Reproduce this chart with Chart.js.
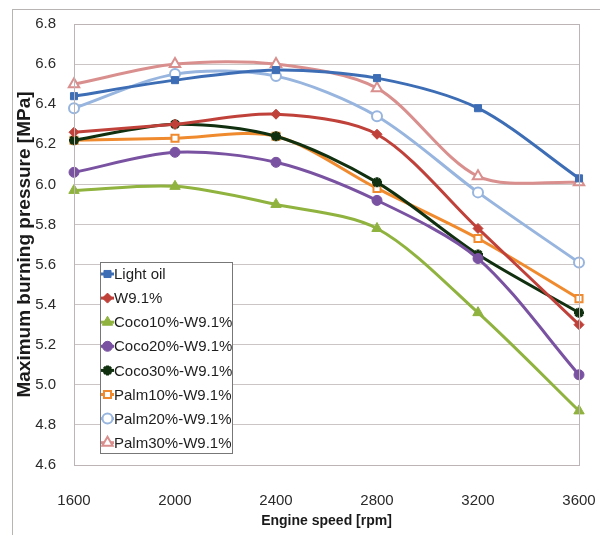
<!DOCTYPE html>
<html>
<head>
<meta charset="utf-8">
<script src="https://cdn.jsdelivr.net/npm/chart.js@4"></script>
<style>
  html, body { margin: 0; padding: 0; background: #fff; }
  #wrap { width: 600px; height: 535px; }
</style>
</head>
<body>
<div id="wrap"><canvas id="chart" width="600" height="535"></canvas></div>
<script>
const FONT = "'Liberation Sans', Arial, sans-serif";

// engine speed [rpm]
const speeds = ['1600', '2000', '2400', '2800', '3200', '3600'];

// maximum burning pressure [MPa]
const lightOil = [6.44, 6.52, 6.57, 6.53, 6.38, 6.03];
const w91      = [6.26, 6.30, 6.35, 6.25, 5.78, 5.30];
const coco10   = [5.97, 5.99, 5.90, 5.78, 5.36, 4.87];
const coco20   = [6.06, 6.16, 6.11, 5.92, 5.63, 5.05];
const coco30   = [6.22, 6.30, 6.24, 6.01, 5.65, 5.36];
const palm10   = [6.22, 6.23, 6.24, 5.98, 5.73, 5.43];
const palm20   = [6.38, 6.55, 6.54, 6.34, 5.96, 5.61];
const palm30   = [6.50, 6.60, 6.60, 6.48, 6.04, 6.01];

const yTicks = [4.6, 4.8, 5.0, 5.2, 5.4, 5.6, 5.8, 6.0, 6.2, 6.4, 6.6, 6.8];

function series(label, data, color, pointStyle, hollow) {
    return {
        label: label,
        data: data,
        borderColor: color,
        backgroundColor: color,
        pointBackgroundColor: hollow ? '#fff' : color,
        pointBorderColor: color,
        pointBorderWidth: hollow ? 2 : 1,
        pointStyle: pointStyle,
        pointRadius: pointStyle === 'triangle' ? 6 : 5,
        borderWidth: 3,
        tension: 0.3,
        fill: false
    };
}

const datasets = [
    series('Light oil', lightOil, '#3d6db5', 'rect', false),
    series('W9.1%', w91, '#c0413a', 'rectRot', false),
    series('Coco10%-W9.1%', coco10, '#8fb33e', 'triangle', false),
    series('Coco20%-W9.1%', coco20, '#7a52a2', 'circle', false),
    series('Coco30%-W9.1%', coco30, '#10300f', 'star', false),
    series('Palm10%-W9.1%', palm10, '#f08a2e', 'rect', true),
    series('Palm20%-W9.1%', palm20, '#97b5de', 'circle', true),
    series('Palm30%-W9.1%', palm30, '#d98f8d', 'triangle', true)
];
datasets[4].pointBorderWidth = 3;

// frame round the picture and round the plot area, plus the legend box inside the plot
const framePlugin = {
    id: 'frame',
    beforeDraw(chart) {
        const ctx = chart.ctx;
        ctx.save();
        ctx.strokeStyle = '#b9b4b4';
        ctx.lineWidth = 1;
        ctx.strokeRect(12.5, 9.5, 600, 540);
        ctx.restore();
    },
    afterDatasetsDraw(chart) {
        const ctx = chart.ctx;
        const a = chart.chartArea;
        ctx.save();
        ctx.strokeStyle = '#bdb5b5';
        ctx.lineWidth = 1;
        ctx.strokeRect(Math.round(a.left) + 0.5, Math.round(a.top) + 0.5,
            Math.round(a.right - a.left), Math.round(a.bottom - a.top));

        // legend
        const box = { x: 100.5, y: 262.5, w: 132, h: 191 };
        ctx.fillStyle = '#fff';
        ctx.fillRect(box.x, box.y, box.w, box.h);
        ctx.strokeStyle = '#777';
        ctx.strokeRect(box.x, box.y, box.w, box.h);
        ctx.font = '15px ' + FONT;
        ctx.textBaseline = 'middle';
        chart.data.datasets.forEach((ds, i) => {
            const cy = 274 + i * 24.1;
            ctx.strokeStyle = ds.borderColor;
            ctx.lineWidth = 3;
            ctx.beginPath();
            ctx.moveTo(101, cy);
            ctx.lineTo(114, cy);
            ctx.stroke();
            ctx.fillStyle = ds.pointBackgroundColor;
            ctx.strokeStyle = ds.pointBorderColor;
            ctx.lineWidth = ds.pointBorderWidth;
            Chart.helpers.drawPoint(ctx, {
                pointStyle: ds.pointStyle,
                radius: ds.pointRadius,
                borderWidth: ds.pointBorderWidth,
                rotation: 0
            }, 107.5, cy);
            ctx.fillStyle = '#1e1e1e';
            ctx.fillText(ds.label, 114, cy + 1);
        });
        ctx.restore();
    }
};

new Chart(document.getElementById('chart'), {
    type: 'line',
    data: { labels: speeds, datasets: datasets },
    plugins: [framePlugin],
    options: {
        responsive: false,
        animation: false,
        layout: { padding: { left: 12, top: 24, right: 21, bottom: 4 } },
        plugins: {
            legend: { display: false },
            tooltip: { enabled: false }
        },
        scales: {
            x: {
                grid: { display: false, drawTicks: false },
                border: { display: false },
                ticks: {
                    color: '#2a2a2a',
                    padding: 27,
                    maxRotation: 0,
                    font: { family: FONT, size: 15 }
                },
                title: {
                    display: true,
                    text: 'Engine speed [rpm]',
                    color: '#1a1a1a',
                    padding: { top: 0, bottom: 1 },
                    font: { family: FONT, size: 14, weight: 'bold' }
                },
                afterFit(scale) {
                    scale.height = 66;
                    scale.paddingLeft = 0;
                    scale.paddingRight = 0;
                }
            },
            y: {
                min: 4.6,
                max: 6.8,
                afterBuildTicks(scale) {
                    scale.ticks = yTicks.map(v => ({ value: v }));
                },
                grid: { color: '#cbc5c5', lineWidth: 1, drawTicks: false },
                border: { display: false },
                ticks: {
                    color: '#2a2a2a',
                    padding: 18,
                    callback: v => Number(v).toFixed(1),
                    font: { family: FONT, size: 15 }
                },
                title: {
                    display: true,
                    text: 'Maximum burning pressure [MPa]',
                    color: '#1a1a1a',
                    padding: { top: 1, bottom: 0 },
                    font: { family: FONT, size: 19, weight: 'bold' }
                },
                afterFit(scale) {
                    scale.width = 62;
                    scale.paddingTop = 0;
                    scale.paddingBottom = 0;
                }
            }
        }
    }
});
</script>
</body>
</html>
